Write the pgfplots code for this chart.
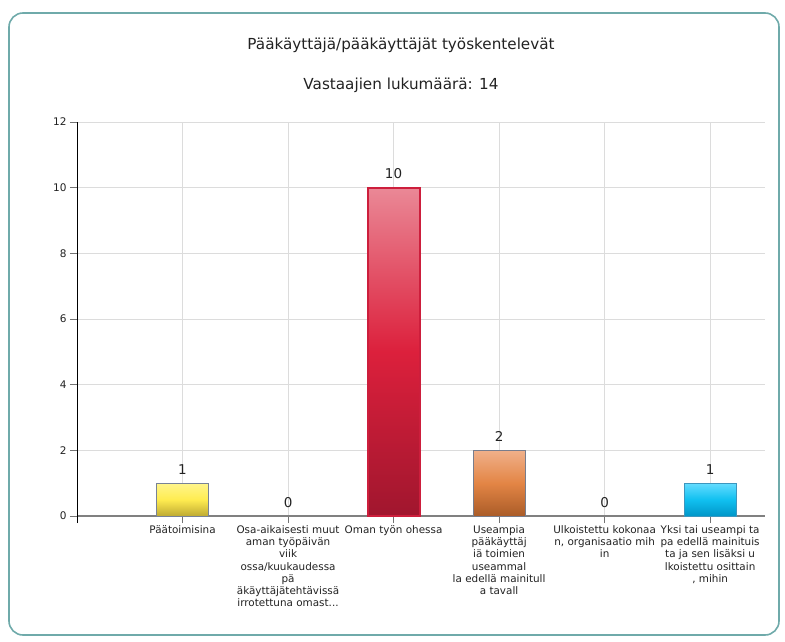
\documentclass[border=0pt]{standalone}
\usepackage{fontspec}
\setmainfont{DejaVu Sans}
\usepackage{pgfplots}
\pgfplotsset{compat=1.18}
\definecolor{frame}{HTML}{6FAAAA}
\definecolor{gridc}{HTML}{DCDCDC}
\definecolor{txt}{HTML}{222222}
\begin{document}
\begin{tikzpicture}[x=1pt,y=1pt]
\path[use as bounding box] (0pt,0pt) rectangle (785pt,-642pt);
\draw[frame, line width=1.6pt, rounded corners=14pt] (9pt,-13pt) rectangle (779pt,-635pt);
\node[font=\fontsize{15.2}{18}\selectfont, text=txt] at (401pt,-45pt) {Pääkäyttäjä/pääkäyttäjät työskentelevät};
\node[font=\fontsize{15.2}{18}\selectfont, text=txt] at (401pt,-85pt) {Vastaajien lukumäärä: 14};
\begin{axis}[
  at={(77pt,-516pt)}, anchor=south west,
  scale only axis, width=688pt, height=394pt,
  xmin=-1, xmax=5.52, ymin=0, ymax=12,
  ytick={0,2,4,6,8,10,12},
  xtick={0,1,2,3,4,5},
  xticklabels={Päätoimisina,
    {Osa-aikaisesti muut\\aman työpäivän\\viik\\ossa/kuukaudessa\\pä\\äkäyttäjätehtävissä\\irrotettuna omast.{}.{}.},
    Oman työn ohessa,
    {Useampia\\pääkäyttäj\\iä toimien\\useammal\\la edellä mainitull\\a tavall},
    {Ulkoistettu kokonaa\\n, organisaatio mih\\in},
    {Yksi tai useampi ta\\pa edellä mainituis\\ta ja sen lisäksi u\\lkoistettu osittain\\, mihin}},
  xticklabel style={align=center, font=\fontsize{10.4}{12.2}\selectfont, text=txt, yshift=1pt},
  yticklabel style={font=\fontsize{10.5}{12}\selectfont, text=txt},
  /pgf/number format/assume math mode=true,
  axis x line*=bottom, axis y line*=left,
  x axis line style={draw=gray, line width=1.3pt, -},
  y axis line style={draw=black, line width=0.8pt, -, shorten <=-7pt},
  tick align=outside, major tick length=7pt,
  tick style={draw=gray!90!black, line width=1pt},
  xmajorgrids, ymajorgrids,
  grid style={draw=gridc, line width=0.8pt},
  clip=false,
  nodes near coords,
  every node near coord/.append style={font=\fontsize{13.5}{15}\selectfont, text=txt, yshift=5pt},
]
\addplot[ybar, bar width=52pt, bar shift=0pt, draw={rgb,255:red,120;green,130;blue,150}, line width=1pt,
  top color={rgb,255:red,255;green,245;blue,140}, bottom color={rgb,255:red,190;green,170;blue,50}, middle color={rgb,255:red,255;green,236;blue,80}]
  coordinates {(0,1)};
\addplot[ybar, bar width=52pt, bar shift=0pt, draw={rgb,255:red,205;green,30;blue,60}, line width=2pt,
  top color={rgb,255:red,234;green,136;blue,150}, bottom color={rgb,255:red,160;green,22;blue,46}, middle color={rgb,255:red,220;green,32;blue,60}]
  coordinates {(2,10)};
\addplot[ybar, bar width=52pt, bar shift=0pt, draw={rgb,255:red,120;green,125;blue,140}, line width=1pt,
  top color={rgb,255:red,240;green,176;blue,138}, bottom color={rgb,255:red,170;green,92;blue,40}, middle color={rgb,255:red,227;green,133;blue,69}]
  coordinates {(3,2)};
\addplot[ybar, bar width=52pt, bar shift=0pt, draw={rgb,255:red,60;green,150;blue,190}, line width=1pt,
  top color={rgb,255:red,100;green,220;blue,255}, bottom color={rgb,255:red,0;green,150;blue,200}, middle color={rgb,255:red,16;green,192;blue,240}]
  coordinates {(5,1)};
\addplot[draw=none, mark=none] coordinates {(1,0) (4,0)};
\end{axis}
\end{tikzpicture}
\end{document}
